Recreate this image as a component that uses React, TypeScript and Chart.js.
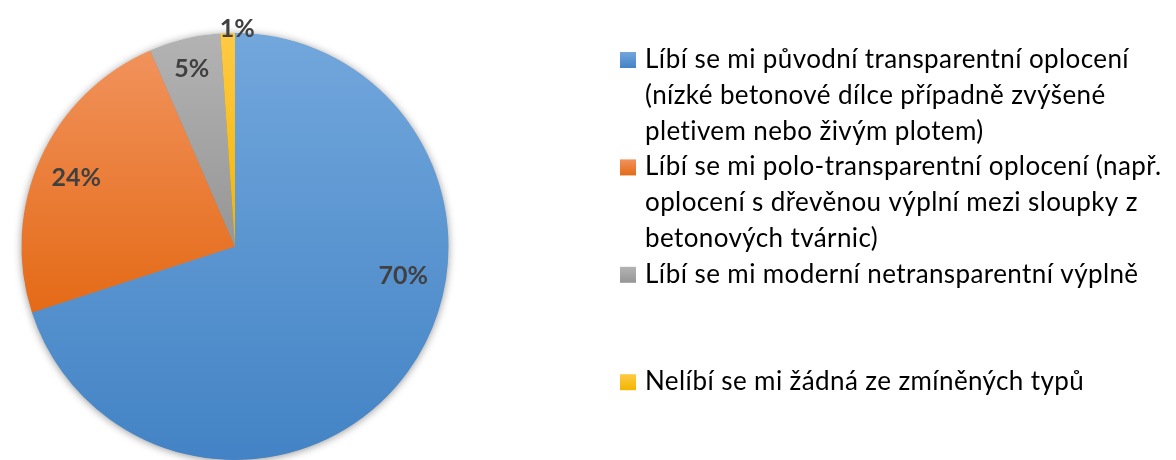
import { useEffect, useRef } from "react";
import { Chart, registerables } from "chart.js";

Chart.register(...registerables);

// ---- data ----
const categories: string[][] = [
  ["Líbí se mi původní transparentní oplocení", "(nízké betonové dílce případně zvýšené", "pletivem nebo živým plotem)"],
  ["Líbí se mi polo-transparentní oplocení (např.", "oplocení s dřevěnou výplní mezi sloupky z", "betonových tvárnic)"],
  ["Líbí se mi moderní netransparentní výplně"],
  ["Nelíbí se mi žádná ze zmíněných typů"],
];
const shares = [70.0, 23.5, 5.4, 1.1];
const lightColors = ["#72A7DC", "#F1925C", "#B3B3B3", "#FFCA44"];
const darkColors = ["#4383C5", "#E46A16", "#969696", "#F2B500"];

// label placement tweaks (angle offset in degrees, radial fraction)
const labelAngleOffset = [-26, -1, 0, 2.6];
const labelRadiusFrac = [0.8, 0.81, 0.855, 1.02];

const FONT = "Lato, 'Open Sans', sans-serif";

function sliceGradient(chart: any, index: number) {
  const area = chart.chartArea;
  if (!area) return darkColors[index];
  const cx = (area.left + area.right) / 2;
  const cy = (area.top + area.bottom) / 2;
  const r = Math.min(area.right - area.left, area.bottom - area.top) / 2;
  const total = shares.reduce((a, b) => a + b, 0);
  let a0 = -Math.PI / 2;
  for (let i = 0; i < index; i++) a0 += (shares[i] / total) * Math.PI * 2;
  const a1 = a0 + (shares[index] / total) * Math.PI * 2;
  let ymin = Math.min(cy, cy + r * Math.sin(a0), cy + r * Math.sin(a1));
  let ymax = Math.max(cy, cy + r * Math.sin(a0), cy + r * Math.sin(a1));
  const inRange = (a: number) => {
    for (let k = -1; k <= 1; k++) {
      const t = a + k * Math.PI * 2;
      if (t >= a0 && t <= a1) return true;
    }
    return false;
  };
  if (inRange(-Math.PI / 2)) ymin = cy - r;
  if (inRange(Math.PI / 2)) ymax = cy + r;
  const g = chart.ctx.createLinearGradient(0, ymin, 0, ymax);
  g.addColorStop(0, lightColors[index]);
  g.addColorStop(1, darkColors[index]);
  return g;
}

const shadowPlugin = {
  id: "pieShadow",
  beforeDatasetsDraw(chart: any) {
    const meta = chart.getDatasetMeta(0);
    const el = meta.data[0];
    if (!el) return;
    const ctx = chart.ctx;
    ctx.save();
    ctx.shadowColor = "rgba(0,0,0,0.45)";
    ctx.shadowBlur = 9;
    ctx.shadowOffsetX = 0;
    ctx.shadowOffsetY = 1;
    ctx.fillStyle = "#888";
    ctx.beginPath();
    ctx.arc(el.x, el.y, el.outerRadius - 0.5, 0, Math.PI * 2);
    ctx.fill();
    ctx.restore();
  },
};

const labelPlugin = {
  id: "sliceLabels",
  afterDatasetsDraw(chart: any) {
    const meta = chart.getDatasetMeta(0);
    const ctx = chart.ctx;
    const total = shares.reduce((a, b) => a + b, 0);
    ctx.save();
    ctx.font = `bold 25px ${FONT}`;
    ctx.fillStyle = "#404040";
    ctx.textAlign = "center";
    ctx.textBaseline = "middle";
    meta.data.forEach((el: any, i: number) => {
      const p = el.getProps(["x", "y", "startAngle", "endAngle", "outerRadius"], true);
      const mid = (p.startAngle + p.endAngle) / 2 + (labelAngleOffset[i] * Math.PI) / 180;
      const rr = p.outerRadius * labelRadiusFrac[i];
      const x = p.x + Math.cos(mid) * rr;
      const y = p.y + Math.sin(mid) * rr;
      ctx.fillText(`${Math.round((shares[i] / total) * 100)}%`, x, y);
    });
    ctx.restore();
  },
};

const legendPlugin = {
  id: "wrapLegend",
  afterDraw(chart: any) {
    const ctx = chart.ctx;
    const markerX = 620;
    const markerSize = 16;
    const textX = 645;
    const firstBaseline = 68;
    const lineH = 35.8;
    const entryLines = 3;
    ctx.save();
    ctx.font = `26px ${FONT}`;
    try {
      (ctx as any).letterSpacing = "0.4px";
    } catch (e) {}
    ctx.fillStyle = "#000";
    ctx.textAlign = "left";
    ctx.textBaseline = "alphabetic";
    categories.forEach((lines, i) => {
      const base = firstBaseline + i * entryLines * lineH;
      const g = ctx.createLinearGradient(0, base - markerSize, 0, base);
      g.addColorStop(0, lightColors[i]);
      g.addColorStop(1, darkColors[i]);
      ctx.fillStyle = g;
      ctx.fillRect(markerX, base - markerSize, markerSize, markerSize);
      ctx.fillStyle = "#000";
      lines.forEach((ln, j) => {
        ctx.fillText(ln, textX, base + j * lineH);
      });
    });
    ctx.restore();
  },
};

export default function App() {
  const ref = useRef<HTMLCanvasElement | null>(null);
  useEffect(() => {
    if (!ref.current) return;
    const chart = new Chart(ref.current, {
      type: "pie",
      data: {
        labels: categories.map((c) => c.join(" ")),
        datasets: [
          {
            data: shares,
            backgroundColor: (c: any) => sliceGradient(c.chart, c.dataIndex),
            borderWidth: 0,
          },
        ],
      },
      options: {
        responsive: false,
        animation: false,
        devicePixelRatio: 1,
        layout: { padding: { left: 21, right: 727, top: 33, bottom: 0 } },
        plugins: {
          legend: { display: false },
          tooltip: { enabled: false },
        },
      },
      plugins: [shadowPlugin, labelPlugin, legendPlugin],
    });
    return () => chart.destroy();
  }, []);
  return (
    <div style={{ position: "absolute", left: 0, top: 0, width: 1176, height: 460, background: "#fff" }}>
      <canvas ref={ref} width={1176} height={460} />
    </div>
  );
}
